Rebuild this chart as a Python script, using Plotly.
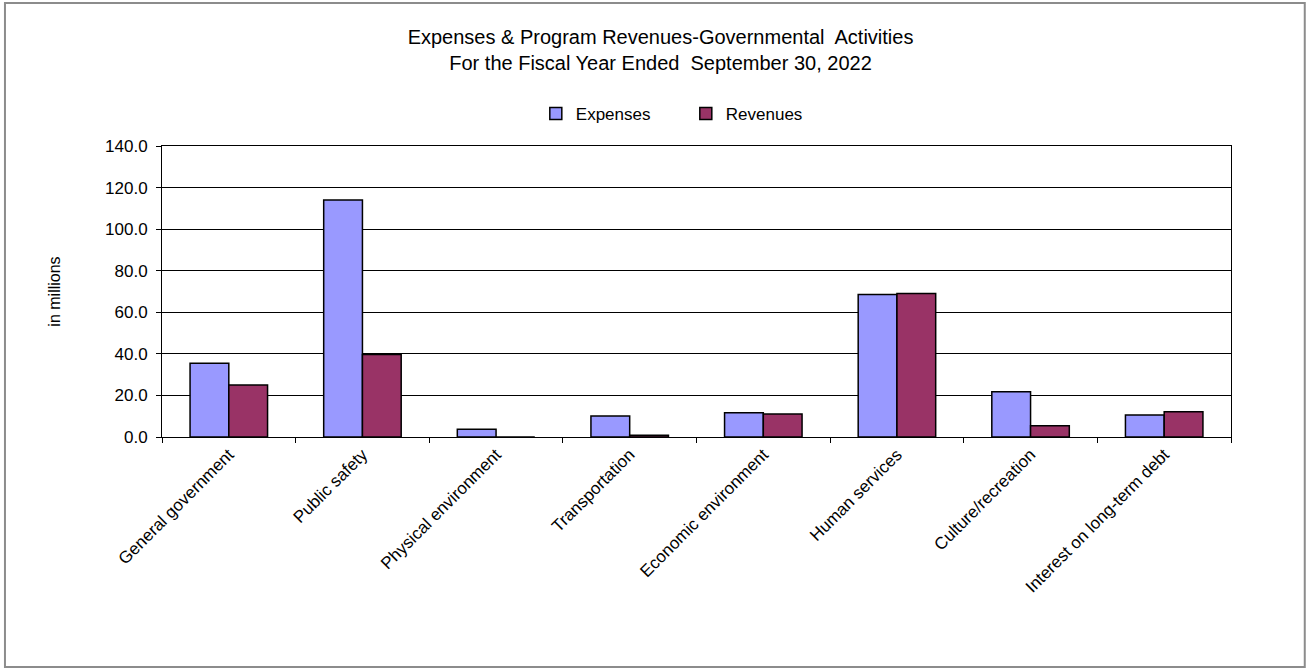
import plotly.graph_objects as go

categories = [
    "General government",
    "Public safety",
    "Physical environment",
    "Transportation",
    "Economic environment",
    "Human services",
    "Culture/recreation",
    "Interest on long-term debt",
]
expenses = [35.5, 114.0, 3.7, 10.1, 11.7, 68.5, 21.8, 10.6]
revenues = [25.0, 39.7, 0.0, 0.8, 11.1, 69.0, 5.4, 12.2]
y_ticks = [0, 20, 40, 60, 80, 100, 120, 140]

FONT = "Liberation Sans, Arial, sans-serif"

fig = go.Figure()
fig.add_trace(go.Bar(
    name="Expenses", x=categories, y=expenses,
    marker=dict(color="#9999FF", line=dict(color="#000000", width=1.5)),
))
fig.add_trace(go.Bar(
    name="Revenues", x=categories, y=revenues,
    marker=dict(color="#993366", line=dict(color="#000000", width=1.5)),
))

fig.update_layout(
    width=1308, height=669,
    paper_bgcolor="white", plot_bgcolor="white",
    font=dict(family=FONT, color="#000000"),
    margin=dict(l=162, r=77, t=146, b=232),
    barmode="group", bargap=0.42, bargroupgap=0,
    title=dict(
        text="Expenses & Program Revenues-Governmental  Activities<br>For the Fiscal Year Ended  September 30, 2022",
        x=0.505, xanchor="center", y=0.934, yanchor="top",
        font=dict(size=20, family=FONT),
    ),
    legend=dict(
        orientation="h", x=0.49, xanchor="center", y=1.11, yanchor="middle",
        font=dict(size=17, family=FONT), itemwidth=30, tracegroupgap=0,
        entrywidth=105, entrywidthmode="pixels",
        bgcolor="rgba(0,0,0,0)",
    ),
    showlegend=True,
)

fig.update_xaxes(
    type="category", tickangle=-45, tickson="boundaries",
    ticks="outside", ticklen=5, tickcolor="#000000",
    showline=True, linecolor="#000000", linewidth=1, mirror=True,
    tickfont=dict(size=17, family=FONT),
    showgrid=False,
)
fig.update_yaxes(
    range=[0, 140], tickvals=y_ticks, tickformat=".1f",
    ticks="outside", ticklen=5, tickcolor="#000000",
    ticklabelstandoff=5,
    showline=True, linecolor="#000000", linewidth=1, mirror=True,
    showgrid=True, gridcolor="#000000", gridwidth=1,
    zeroline=False,
    tickfont=dict(size=17, family=FONT),
    title=dict(text="in millions", font=dict(size=16, family=FONT), standoff=40),
)

# Outer frame around the whole chart
fig.add_shape(
    type="rect", xref="paper", yref="paper",
    x0=-0.1469, x1=1.069, y0=-0.790, y1=1.491,
    line=dict(color="#8c8c8c", width=2), fillcolor="rgba(0,0,0,0)",
    layer="below",
)

fig.write_html("out.html")
